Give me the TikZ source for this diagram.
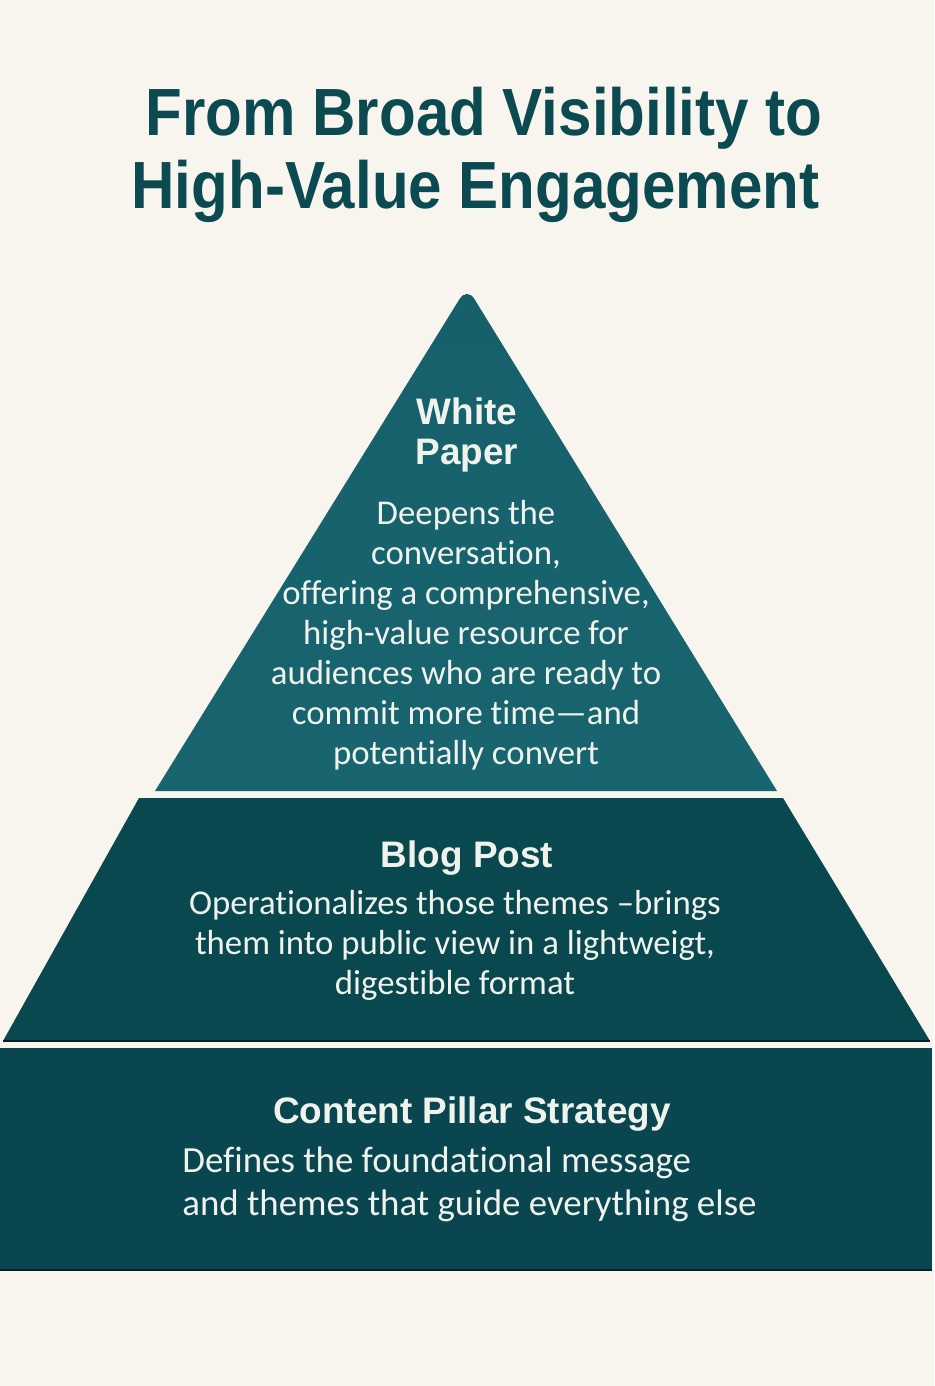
\documentclass[tikz,border=0pt]{standalone}
\usepackage{fontspec}
\setmainfont{Carlito}[Ligatures={NoCommon}]
\newfontfamily\headfont{Liberation Sans}
\newfontfamily\titlefont[FakeStretch=0.9]{Liberation Sans}
\definecolor{paper}{HTML}{F8F4EE}
\definecolor{inkteal}{HTML}{0C4A52}
\definecolor{tiertop}{HTML}{15606A}
\definecolor{tiertopb}{HTML}{19656F}
\definecolor{tiermid}{HTML}{0A4850}
\definecolor{tierbase}{HTML}{094650}
\definecolor{tierline}{HTML}{03222A}
\definecolor{lighttext}{HTML}{F0F2EC}
\tikzset{
  title/.style={font=\titlefont\bfseries\fontsize{38}{44}\selectfont, text=inkteal, anchor=base, inner sep=0pt},
  tierhead/.style={font=\headfont\bfseries\fontsize{21}{22.8}\selectfont, text=lighttext, align=center, inner sep=0pt},
  tiertext/.style={font=\fontsize{19.8}{22.8}\selectfont, text=lighttext, align=center, inner sep=0pt}
}
\begin{document}
\begin{tikzpicture}[x=0.02cm, y=-0.02cm]
  % page
  \fill[paper] (0,0) rectangle (934,1386);
  \useasboundingbox (0,0) rectangle (934,1386);

  % title
  \node[title] (title1) at (484,135) {From Broad Visibility to};
  \node[title] (title2) at (475.5,208) {High-Value Engagement};

  % tiers
  \shade[top color=tiertop, bottom color=tiertopb]
    (155,791) [rounded corners=8pt] -- (467,287) [sharp corners] -- (777,791) -- cycle;
  \fill[tiermid] (139,798) -- (783,798) -- (930,1041) -- (3,1041) -- cycle;
  \draw[tierline, line width=1.2pt] (3,1041) -- (930,1041);
  \fill[tierbase] (0,1048) rectangle (932,1270);
  \draw[tierline, line width=1.2pt] (0,1270) -- (932,1270);

  % labels
  \node[tierhead, anchor=north] (whiteHead) at (467,397) {White\\Paper};
  \node[tiertext, anchor=north] (whiteText) at (466,500)
    {Deepens the\\conversation,\\offering a comprehensive,\\high-value resource for\\audiences who are ready to\\commit more time—and\\potentially convert};
  \node[tierhead, anchor=base] (blogHead) at (467,867) {Blog Post};
  \node[tiertext, anchor=north] (blogText) at (455,890)
    {Operationalizes those themes –brings\\them into public view in a lightweigt,\\digestible format};
  \node[tierhead, anchor=base] (pillarHead) at (472,1123) {Content Pillar Strategy};
  \node[tiertext, align=left, anchor=north west, font=\fontsize{21}{24}\selectfont] (pillarText) at (182,1147)
    {Defines the foundational message\\and themes that guide everything else};
\end{tikzpicture}
\end{document}
